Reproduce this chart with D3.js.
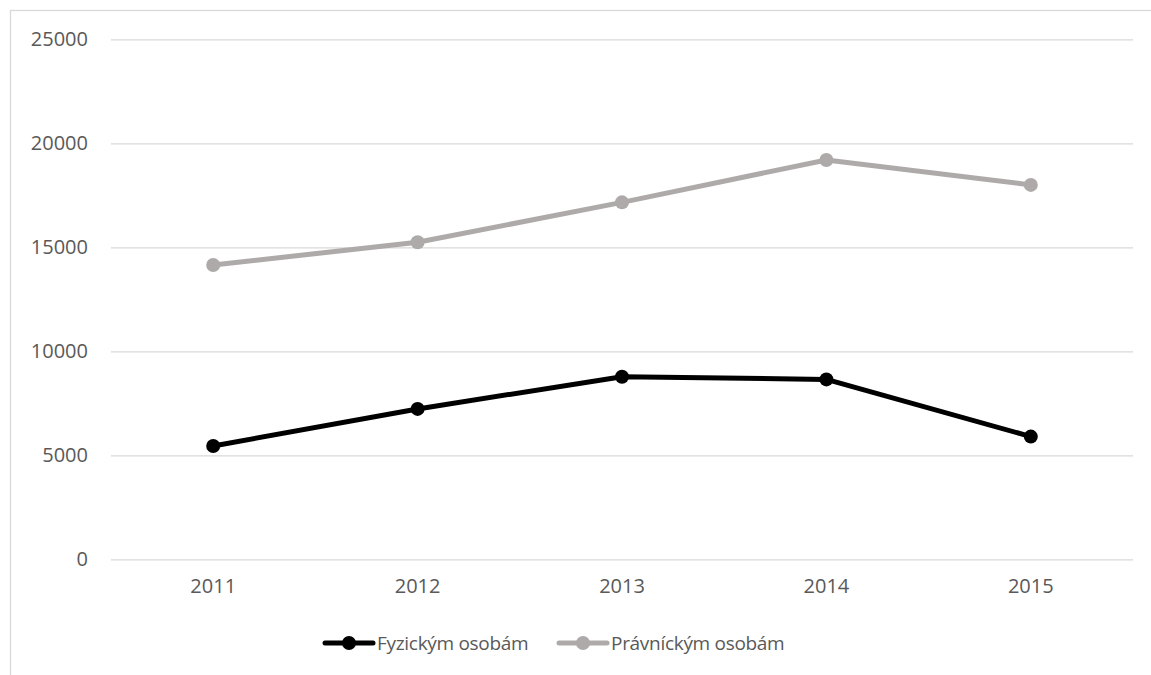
<!DOCTYPE html>
<html>
<head>
<meta charset="utf-8">
<script src="https://cdn.jsdelivr.net/npm/d3@7"></script>
<style>
  html, body { margin: 0; padding: 0; background: #fff; }
  svg { display: block; }
  text { font-family: "Open Sans", "Noto Sans", sans-serif; fill: #595959; }
</style>
</head>
<body>
<svg id="chart" width="1151" height="675"></svg>
<script>
// Years on the horizontal axis
const years = ["2011", "2012", "2013", "2014", "2015"];
// Series values
const fyzicke = [5450, 7230, 8780, 8650, 5900];
const pravnicke = [14150, 15240, 17160, 19200, 18000];
// Series names shown in the legend
const seriesNames = ["Fyzickým osobám", "Právníckým osobám"];
// Y tick values
const yTicks = [0, 5000, 10000, 15000, 20000, 25000];

const colors = ["#000000", "#AEAAAA"];
const series = [
  { name: seriesNames[0], values: fyzicke, color: colors[0] },
  { name: seriesNames[1], values: pravnicke, color: colors[1] }
];

const svg = d3.select("#chart");
const W = 1151, H = 675;
const plot = { left: 111, right: 1133, top: 39.3, bottom: 559.3 };
const FONT = "'Open Sans', 'Noto Sans', sans-serif";

// Chart frame (top and left edges visible)
svg.append("rect")
  .attr("x", 10.5).attr("y", 10.5)
  .attr("width", W + 20).attr("height", H + 20)
  .attr("fill", "none").attr("stroke", "#d9d9d9").attr("stroke-width", 1.3);

const x = d3.scaleBand().domain(years).range([plot.left, plot.right]);
const y = d3.scaleLinear().domain([0, 25000]).range([plot.bottom, plot.top]);

// Horizontal gridlines
svg.append("g")
  .attr("transform", `translate(${plot.left},0)`)
  .call(d3.axisLeft(y).tickValues(yTicks).tickSize(-(plot.right - plot.left)).tickFormat(""))
  .call(g => g.select(".domain").remove())
  .call(g => g.selectAll("line").attr("stroke", "#d9d9d9").attr("stroke-width", 1.3));

// Y axis labels
svg.append("g")
  .attr("transform", `translate(${plot.left},0)`)
  .call(d3.axisLeft(y).tickValues(yTicks).tickSize(0).tickPadding(23).tickFormat(d3.format("d")))
  .call(g => g.select(".domain").remove())
  .call(g => g.selectAll("text")
    .attr("font-size", 20)
    .attr("font-family", FONT)
    .attr("fill", "#595959"));

// X axis labels
svg.append("g")
  .attr("transform", `translate(0,${plot.bottom})`)
  .call(d3.axisBottom(x).tickSize(0).tickPadding(20))
  .call(g => g.select(".domain").remove())
  .call(g => g.selectAll("text")
    .attr("font-size", 20)
    .attr("font-family", FONT)
    .attr("fill", "#595959"));

const cx = d => x(d) + x.bandwidth() / 2;
const line = d3.line().x((d, i) => cx(years[i])).y(d => y(d));

series.forEach(s => {
  const g = svg.append("g");
  g.append("path")
    .datum(s.values)
    .attr("d", line)
    .attr("fill", "none")
    .attr("stroke", s.color)
    .attr("stroke-width", 5)
    .attr("stroke-linejoin", "round")
    .attr("stroke-linecap", "round");
  g.selectAll("circle")
    .data(s.values)
    .join("circle")
    .attr("cx", (d, i) => cx(years[i]))
    .attr("cy", d => y(d))
    .attr("r", 7)
    .attr("fill", s.color);
});

// Legend
const legendY = 643;
const legendX = [325, 559];
series.forEach((s, i) => {
  const g = svg.append("g").attr("transform", `translate(${legendX[i]},${legendY})`);
  g.append("line")
    .attr("x1", 0).attr("x2", 48).attr("y1", 0).attr("y2", 0)
    .attr("stroke", s.color).attr("stroke-width", 5).attr("stroke-linecap", "round");
  g.append("circle").attr("cx", 24).attr("cy", 0).attr("r", 7).attr("fill", s.color);
  g.append("text")
    .attr("x", 52).attr("y", 0).attr("dy", "0.35em")
    .attr("font-size", 19)
    .attr("letter-spacing", -0.3)
    .attr("font-family", FONT)
    .text(s.name);
});
</script>
</body>
</html>
